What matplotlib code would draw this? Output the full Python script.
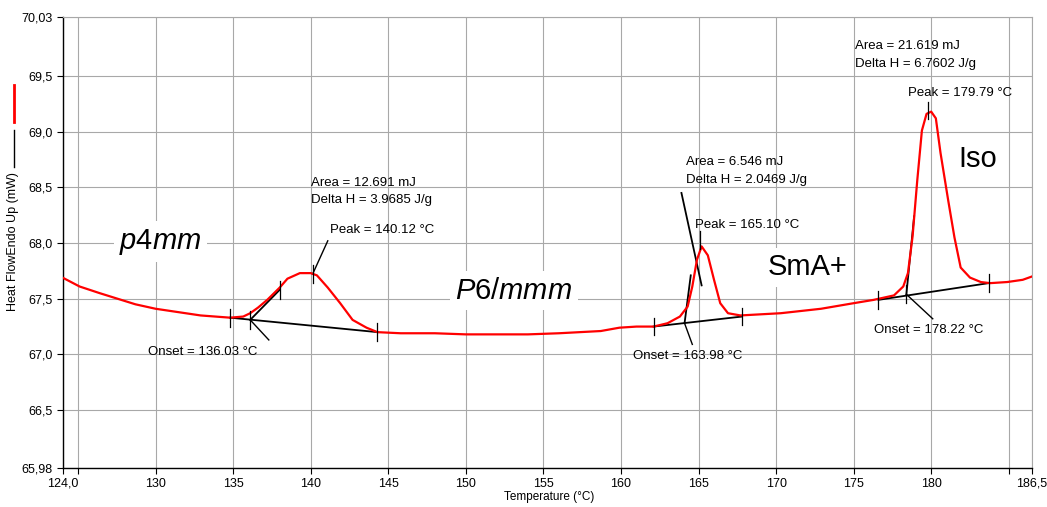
import numpy as np
from matplotlib import pyplot as plt
from matplotlib.lines import Line2D

plt.rcParams['font.family'] = ['Liberation Sans', 'DejaVu Sans']
plt.rcParams['mathtext.fontset'] = 'custom'
plt.rcParams['mathtext.rm'] = 'Liberation Sans'
plt.rcParams['mathtext.it'] = 'Liberation Sans:italic'

# DSC curve
temp = [124.0, 125.1, 126.4, 128.7, 130.0, 132.9, 134.8, 135.65, 136.1, 136.6,
        137.2, 138.0, 138.5, 139.3, 140.0, 140.4, 141.1, 141.9, 142.7, 143.6,
        144.3, 145.8, 148.0, 150.0, 152.0, 154.0, 156.0, 158.7, 159.9, 161.0,
        162.1, 163.0, 163.8, 164.3, 164.6, 164.9, 165.2, 165.6, 166.0, 166.4,
        166.9, 167.7, 169.0, 170.3, 172.9, 175.0, 176.3, 177.6, 178.2, 178.5,
        178.8, 179.1, 179.4, 179.7, 180.0, 180.3, 180.6, 181.1, 181.5, 181.9,
        182.5, 183.2, 183.8, 184.9, 185.9, 186.5]
heat = [67.69, 67.61, 67.55, 67.45, 67.41, 67.35, 67.33, 67.34, 67.37, 67.42,
        67.49, 67.60, 67.68, 67.73, 67.73, 67.71, 67.60, 67.46, 67.31, 67.24,
        67.20, 67.19, 67.19, 67.18, 67.18, 67.18, 67.19, 67.21, 67.24, 67.25,
        67.25, 67.28, 67.34, 67.43, 67.61, 67.85, 67.97, 67.89, 67.67, 67.46,
        67.37, 67.35, 67.36, 67.37, 67.41, 67.46, 67.49, 67.53, 67.61, 67.73,
        68.06, 68.56, 69.01, 69.16, 69.18, 69.12, 68.81, 68.38, 68.05, 67.78,
        67.69, 67.65, 67.64, 67.65, 67.67, 67.70]

xticks = [124.0, 125, 130, 135, 140, 145, 150, 155, 160, 165, 170, 175, 180, 185, 186.5]
xlabels = ['124,0', '', '130', '135', '140', '145', '150', '155', '160', '165',
           '170', '175', '180', '', '186,5']
yticks = [65.98, 66.5, 67.0, 67.5, 68.0, 68.5, 69.0, 69.5, 70.03]
ylabels = ['65,98', '66,5', '67,0', '67,5', '68,0', '68,5', '69,0', '69,5', '70,03']

# peak analysis constructions: baseline, onset tangent, leaders
base_x = [[134.8, 144.3], [162.1, 167.8], [176.6, 183.7]]
base_y = [[67.33, 67.20], [67.25, 67.34], [67.49, 67.64]]
onset_pt = [(136.1, 67.31), (164.1, 67.28), (178.4, 67.54)]
tangent_end = [(138.0, 67.58), (164.5, 67.71), (178.9, 68.24)]
onset_leader = [(137.3, 67.13), (164.6, 67.09), (180.1, 67.32)]
peak_pt = [(140.12, 67.72), (165.10, 67.98), (179.79, 69.19)]
peak_leader = [(141.1, 68.02), None, None]
area_leader = [None, ((163.9, 68.45), (165.2, 67.62)), None]
tick_x = [[134.8, 136.1, 138.0, 140.12, 144.3],
          [162.1, 165.10, 167.8],
          [176.6, 178.4, 179.79, 183.7]]
tick_y = [[67.33, 67.31, 67.58, 67.72, 67.20],
          [67.25, 68.03, 67.34],
          [67.49, 67.54, 69.19, 67.64]]

area_txt = ['Area = 12.691 mJ', 'Area = 6.546 mJ', 'Area = 21.619 mJ']
dh_txt = ['Delta H = 3.9685 J/g', 'Delta H = 2.0469 J/g', 'Delta H = 6.7602 J/g']
area_pos = [(140.0, 68.54, 68.39), (164.2, 68.73, 68.57), (175.1, 69.77, 69.61)]
peak_txt = ['Peak = 140.12 °C', 'Peak = 165.10 °C', 'Peak = 179.79 °C']
peak_pos = [(141.26, 68.12), (164.8, 68.16), (178.5, 69.35)]
onset_txt = ['Onset = 136.03 °C', 'Onset = 163.98 °C', 'Onset = 178.22 °C']
onset_pos = [(129.5, 67.02), (160.8, 66.99), (176.3, 67.22)]

phases = ['$\\mathit{p4mm}$', '$\\mathit{P}$6/$\\mathit{mmm}$', 'SmA+', 'Iso']
phase_pos = [(130.3, 67.95), (153.1, 67.50), (172.0, 67.71), (183.0, 68.68)]


def main():
    fig = plt.figure(figsize=(10.47, 5.07), dpi=100)
    ax = fig.add_axes([0.0597, 0.0769, 0.9260, 0.8896])

    ax.plot(temp, heat, color='#ff0000', lw=1.6, zorder=4)

    for i in range(3):
        ax.plot(base_x[i], base_y[i], color='black', lw=1.3, zorder=3)
        ax.plot([onset_pt[i][0], tangent_end[i][0]], [onset_pt[i][1], tangent_end[i][1]],
                color='black', lw=1.3, zorder=3)
        ax.plot([onset_pt[i][0], onset_leader[i][0]], [onset_pt[i][1], onset_leader[i][1]],
                color='black', lw=1.0, zorder=3)
        if peak_leader[i] is not None:
            ax.plot([peak_pt[i][0], peak_leader[i][0]], [peak_pt[i][1], peak_leader[i][1]],
                    color='black', lw=1.0, zorder=3)
        if area_leader[i] is not None:
            a, b = area_leader[i]
            ax.plot([a[0], b[0]], [a[1], b[1]], color='black', lw=1.3, zorder=3)
        for tx, ty in zip(tick_x[i], tick_y[i]):
            ax.plot([tx, tx], [ty - 0.08, ty + 0.08], color='black', lw=0.9, zorder=5)

        ax.text(area_pos[i][0], area_pos[i][1], area_txt[i], fontsize=9.5, va='center')
        ax.text(area_pos[i][0], area_pos[i][2], dh_txt[i], fontsize=9.5, va='center')
        ax.text(peak_pos[i][0], peak_pos[i][1], peak_txt[i], fontsize=9.5, va='center')
        ax.text(onset_pos[i][0], onset_pos[i][1], onset_txt[i], fontsize=9.5, va='center')

    for lab, (px, py) in zip(phases, phase_pos):
        ax.text(px, py, lab, fontsize=21, ha='center', va='baseline', zorder=2,
                bbox=dict(facecolor='white', edgecolor='none', pad=4))

    ax.set_xlim(124.0, 186.5)
    ax.set_ylim(65.98, 70.03)
    ax.set_xticks(xticks)
    ax.set_xticklabels(xlabels)
    ax.set_yticks(yticks)
    ax.set_yticklabels(ylabels)
    ax.tick_params(labelsize=9, length=4, width=0.8, color='black', pad=3)
    ax.grid(True, color='#a8a8a8', lw=0.8)
    ax.set_axisbelow(True)
    for s in ['top', 'right']:
        ax.spines[s].set_color('#a8a8a8')
        ax.spines[s].set_linewidth(0.8)
    for s in ['left', 'bottom']:
        ax.spines[s].set_linewidth(1.0)

    ax.set_xlabel('Temperature (°C)', fontsize=8.5)
    ax.xaxis.set_label_coords(0.502, -0.064)
    ax.xaxis.label.set_va('center')
    ax.set_ylabel('Heat FlowEndo Up (mW)', fontsize=9)
    ax.yaxis.set_label_coords(-0.051, 0.501)
    ax.yaxis.label.set_va('center')

    # legend strokes next to the y label
    fig.add_artist(Line2D([0.0129, 0.0129], [0.759, 0.832], color='#ff0000', lw=2))
    fig.add_artist(Line2D([0.0129, 0.0129], [0.671, 0.744], color='black', lw=1))

    fig.savefig('out.png', dpi=100)


main()
